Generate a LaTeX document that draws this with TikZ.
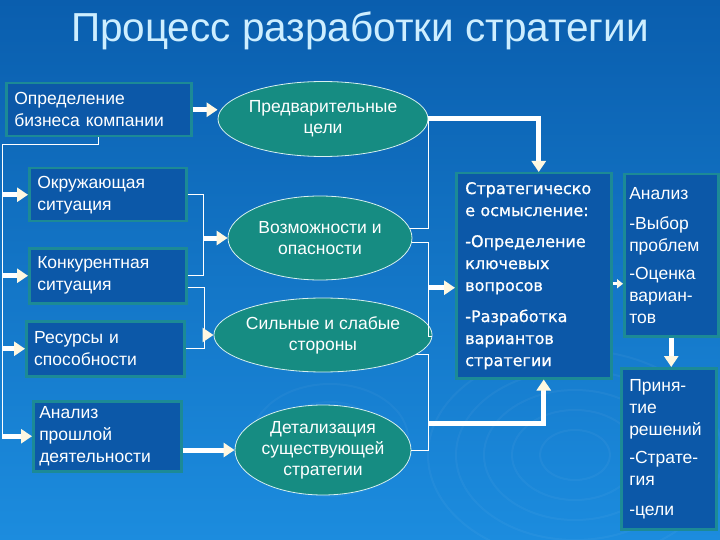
\documentclass[tikz,border=0pt]{standalone}
\usepackage{fontspec}
\setmainfont{Liberation Sans}
\newfontfamily\stratfont{DejaVu Sans}[FakeBold=0.8]
\usetikzlibrary{arrows.meta,positioning,shapes.geometric,calc}
\definecolor{bgtop}{RGB}{10,94,174}
\definecolor{bgbot}{RGB}{28,140,222}
\definecolor{boxfill}{RGB}{12,88,168}
\definecolor{boxedge}{RGB}{28,138,150}
\definecolor{ovalfill}{RGB}{22,140,130}
\definecolor{ovaledge}{RGB}{215,240,240}
\definecolor{arrhead}{RGB}{255,248,225}
\definecolor{titlecol}{RGB}{205,238,255}

\begin{document}
\begin{tikzpicture}[x=1pt, y=-1pt,
    lbox/.style={draw=boxedge, line width=2.5pt, fill=boxfill, anchor=north west, inner ysep=0pt, inner xsep=8pt, align=left, text=white, font=\fontsize{17.5}{22}\selectfont},
    oval/.style={ellipse, draw=ovaledge, line width=0.8pt, fill=ovalfill, inner sep=0pt, align=center, text=white, font=\fontsize{17.5}{21}\selectfont},
    thinln/.style={draw=white, line width=1pt},
    fatarr/.style={draw=white, line width=5pt, -{Triangle[length=11pt,width=14pt,color=arrhead]}},
    smallarr/.style={draw=white, line width=3pt, -{Triangle[length=6pt,width=9pt,color=arrhead]}}
]
\useasboundingbox (0,0) rectangle (720,540);
\shade[top color=bgtop, bottom color=bgbot] (0,0) rectangle (720,540);

% ripples
\foreach \r in {25pt,45pt,65pt,85pt,105pt}
    \draw[white, opacity=0.04, line width=2pt] (575,455) ellipse [x radius={1.4*\r}, y radius=\r];
\foreach \r in {20pt,38pt,56pt}
    \draw[white, opacity=0.035, line width=2pt] (330,440) ellipse [x radius={1.4*\r}, y radius=\r];

\node[font=\fontsize{40.5}{46}\selectfont, text=titlecol] (title) at (360,31) {Процесс разработки стратегии};

% left column
\node[lbox, minimum width=185pt, minimum height=53pt, text width=169pt] (defBiz) at (5,82) {Определение\\бизнеса компании};
\node[lbox, minimum width=157pt, minimum height=53pt, text width=141pt] (envSit) at (28,167) {Окружающая\\ситуация};
\node[lbox, minimum width=157pt, minimum height=55pt, text width=141pt] (compSit) at (28,247) {Конкурентная\\ситуация};
\node[lbox, minimum width=158pt, minimum height=55pt, text width=142pt] (resCap) at (25,320) {Ресурсы и\\способности};
\node[lbox, minimum width=148pt, minimum height=70pt, text width=136pt, inner xsep=6pt] (pastAn) at (32,400) {Анализ\\прошлой\\деятельности};

% ovals
\node[oval, minimum width=176pt, minimum height=75pt] (prelim) at (323,119) {Предварительные\\цели};
\node[oval, minimum width=184pt, minimum height=84pt] (oppThr) at (320,238) {Возможности и\\опасности};
\node[oval, minimum width=176pt, minimum height=74pt] (strWeak) at (323,335) {Сильные и слабые\\стороны};
\node[oval, minimum width=176pt, minimum height=90pt] (detail) at (323,450) {Детализация\\существующей\\стратегии};

% right boxes
\node[lbox, minimum width=155pt, minimum height=205pt, text width=137pt, inner xsep=9pt, font=\stratfont\fontsize{16}{22}\selectfont] (strat) at (455,172)
    {Стратегическо\\е осмысление:\\[9pt]-Определение\\ключевых\\вопросов\\[9pt]-Разработка\\вариантов\\стратегии};
\node[lbox, minimum width=94pt, minimum height=162pt, text width=84pt, inner xsep=5pt] (anal) at (623,173)
    {Анализ\\[8pt]-Выбор\\проблем\\[6pt]-Оценка\\вариан-\\тов};
\node[lbox, minimum width=95pt, minimum height=161pt, text width=79pt] (decis) at (620,367)
    {Приня-\\тие\\решений\\[6pt]-Страте-\\гия\\[8pt]-цели};

% rail on the left
\coordinate (railTop) at (2,145);
\coordinate (railBot) at (2,438);
\draw[thinln] (defBiz.south) |- (railTop) -- (railBot);
\foreach \b in {envSit, compSit, resCap, pastAn}
    \draw[fatarr] (railTop |- \b.west) -- (\b.west);

% boxes -> ovals
\coordinate (jA) at ($(compSit.east)+(16,0)$);
\coordinate (jB) at ($(resCap.east)+(19,0)$);
\draw[fatarr] (defBiz.east) -- (defBiz.east -| prelim.west);
\draw[thinln] (envSit.east) -| (jA) -- (compSit.east);
\draw[fatarr] (jA |- oppThr.west) -- (oppThr.west);
\draw[thinln] ($(compSit.east)+(0,12)$) -| (jB) -- (resCap.east);
\draw[fatarr] (jB |- strWeak.west) -- (strWeak.west);
\draw[fatarr] (pastAn.east |- detail.west) -- (detail.west);

% ovals -> strategic box
\coordinate (colR) at (428,0);
\coordinate (jE) at (428,423);
\draw[thinln] (prelim.east) -- (prelim.east -| colR) |- (oppThr.6);
\draw[thinln] (oppThr.-3) -- (oppThr.-3 -| colR) |- (strWeak.-1);
\draw[thinln] (strWeak.-12) -- (strWeak.-12 -| colR) |- (detail.east);
\draw[fatarr] (colR |- prelim.east) -| ([xshift=5pt]strat.north);
\draw[fatarr] ([yshift=-12pt]strat.west -| colR) -- ([yshift=-12pt]strat.west);
\draw[fatarr] (jE) -| ([xshift=10pt]strat.south);

% strategic box -> decisions
\draw[smallarr] ([yshift=-8pt]strat.east) -- ([yshift=-8pt]strat.east -| anal.west);
\draw[fatarr] (anal.south) -- (anal.south |- decis.north);
\end{tikzpicture}
\end{document}
